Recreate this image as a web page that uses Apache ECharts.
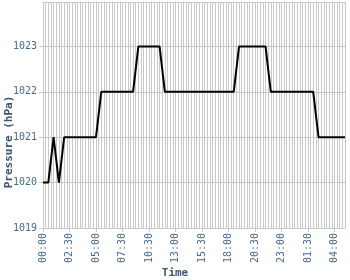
<!DOCTYPE html>
<html>
<head>
<meta charset="utf-8">
<script src="https://cdn.jsdelivr.net/npm/echarts@6/dist/echarts.min.js"></script>
<style>
  html, body { margin: 0; padding: 0; background: #fff; }
  #chart { width: 350px; height: 280px; }
</style>
</head>
<body>
<div id="chart"></div>
<script>
// readings, one every half hour (one reading missing around 09:00)
let times = [
  '00:00', '00:30', '01:00', '01:30', '02:00', '02:30', '03:00', '03:30', '04:00', '04:30',
  '05:00', '05:30', '06:00', '06:30', '07:00', '07:30', '08:00', '08:30', '09:30', '10:00',
  '10:30', '11:00', '11:30', '12:00', '12:30', '13:00', '13:30', '14:00', '14:30', '15:00',
  '15:30', '16:00', '16:30', '17:00', '17:30', '18:00', '18:30', '19:00', '19:30', '20:00',
  '20:30', '21:00', '21:30', '22:00', '22:30', '23:00', '23:30', '00:00', '00:30', '01:00',
  '01:30', '02:00', '02:30', '03:00', '03:30', '04:00', '04:30', '05:00'
];
let pressure = [
  1020, 1020, 1021, 1020, 1021, 1021, 1021, 1021, 1021, 1021,
  1021, 1022, 1022, 1022, 1022, 1022, 1022, 1022, 1023, 1023,
  1023, 1023, 1023, 1022, 1022, 1022, 1022, 1022, 1022, 1022,
  1022, 1022, 1022, 1022, 1022, 1022, 1022, 1023, 1023, 1023,
  1023, 1023, 1023, 1022, 1022, 1022, 1022, 1022, 1022, 1022,
  1022, 1022, 1021, 1021, 1021, 1021, 1021, 1021
];

let labelColor = '#48698f';
let nameColor = '#3b5675';
let gridColor = '#c8c8c8';
let font = 'DejaVu Sans Mono';

let chartDom = document.getElementById('chart');
let myChart = echarts.init(chartDom);
let option = {
  animation: false,
  grid: {
    left: 43,
    right: 5,
    top: 2,
    bottom: 52,
    outerBoundsMode: 'none',
    containLabel: false
  },
  xAxis: [{
      type: 'category',
      data: times,
      boundaryGap: false,
      name: 'Time',
      nameLocation: 'middle',
      nameGap: 40,
      nameMoveOverlap: false,
      nameTextStyle: {
        color: nameColor,
        fontFamily: font,
        fontWeight: 'bold',
        fontSize: 11,
        padding: [0, 38, 0, 0]
      },
      axisLine: { lineStyle: { color: gridColor } },
      axisTick: { interval: 4, length: 4, lineStyle: { color: gridColor } },
      axisLabel: {
        interval: 4,
        rotate: 90,
        margin: 5,
        color: labelColor,
        fontFamily: font,
        fontSize: 10
      },
      splitLine: { show: false }
    },
    {
      // half-step vertical grid lines
      type: 'value',
      min: 0,
      max: times.length - 1,
      interval: 0.5,
      position: 'bottom',
      axisLine: { show: false },
      axisTick: { show: false },
      axisLabel: { show: false },
      splitLine: { show: true, lineStyle: { color: gridColor } }
    }
  ],
  yAxis: {
    type: 'value',
    min: 1019,
    max: 1023.98,
    interval: 1,
    name: 'Pressure (hPa)',
    nameLocation: 'middle',
    nameGap: 28,
    nameMoveOverlap: false,
    nameTextStyle: {
      color: nameColor,
      fontFamily: font,
      fontWeight: 'bold',
      fontSize: 11,
      padding: [0, 54, 0, 0]
    },
    axisLine: { show: true, lineStyle: { color: gridColor } },
    axisTick: { show: true, length: 4, lineStyle: { color: gridColor } },
    axisLabel: {
      margin: 6,
      showMaxLabel: false,
      color: labelColor,
      fontFamily: font,
      fontSize: 10,
      formatter: function (v) {
        return String(v);
      }
    },
    splitLine: { lineStyle: { color: gridColor } }
  },
  series: [{
    name: 'Pressure',
    type: 'line',
    xAxisIndex: 0,
    data: pressure,
    showSymbol: false,
    lineStyle: { color: '#000', width: 2 },
    z: 5
  }]
};

option && myChart.setOption(option);
</script>
</body>
</html>
